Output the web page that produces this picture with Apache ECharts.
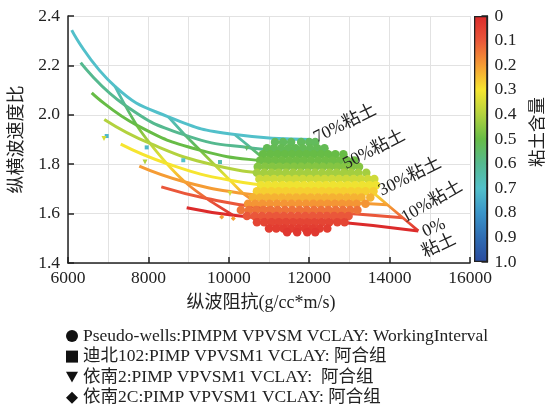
<!DOCTYPE html>
<html><head><meta charset="utf-8">
<script src="https://cdn.jsdelivr.net/npm/echarts@6/dist/echarts.min.js"></script>
<style>html,body{margin:0;padding:0;background:#fff}#c{width:548px;height:407px}</style>
</head><body><div id="c"></div>
<script>
const FONT = "'Liberation Serif','Times New Roman','Noto Sans CJK SC',serif";

// ---- template (rock-physics) curves: one per clay content ----
const clayLevels = [0.7, 0.6, 0.5, 0.4, 0.3, 0.2, 0.1, 0.0];
const curveX = [
  [6092, 7169, 8496, 10150, 12020],
  [6316, 7418, 8910, 10550, 12405],
  [6590, 7709, 9284, 10950, 12790],
  [6903, 8040, 9657, 11350, 13175],
  [7311, 8455, 10030, 11700, 13560],
  [7774, 8910, 10361, 12050, 13945],
  [8321, 9450, 10900, 12400, 14329],
  [8952, 10112, 11300, 12700, 14714]
];
const curveY = [
  [2.343, 2.115, 1.992, 1.920, 1.900],
  [2.211, 2.039, 1.918, 1.866, 1.847],
  [2.089, 1.958, 1.857, 1.812, 1.794],
  [1.981, 1.884, 1.796, 1.757, 1.741],
  [1.881, 1.803, 1.735, 1.705, 1.689],
  [1.792, 1.728, 1.681, 1.655, 1.636],
  [1.708, 1.661, 1.622, 1.607, 1.583],
  [1.624, 1.593, 1.578, 1.566, 1.530]
];
const curveLabels = ['70%粘土', '50%粘土', '30%粘土', '10%粘土', '0%', '粘土'];

// ---- pseudo-well cloud: rows of points (y, clay, x list) ----
const cloudRowY = [1.89, 1.865, 1.84, 1.815, 1.79, 1.765, 1.74, 1.715, 1.69, 1.665, 1.64, 1.615, 1.59, 1.565, 1.54, 1.525];
const cloudRowClay = [0.53, 0.52, 0.50, 0.49, 0.46, 0.42, 0.36, 0.31, 0.27, 0.23, 0.19, 0.14, 0.10, 0.06, 0.04, 0.03];
const cloudRowX = [
  [11150, 11350, 11550, 11800, 12000, 12150],
  [10950, 11120, 11300, 11480, 11660, 11840, 12020, 12200, 12380],
  [10850, 11030, 11210, 11390, 11570, 11750, 11930, 12110, 12290, 12470, 12650, 12850],
  [10780, 10960, 11140, 11320, 11500, 11680, 11860, 12040, 12220, 12400, 12580, 12760, 12940, 13120],
  [10720, 10900, 11080, 11260, 11440, 11620, 11800, 11980, 12160, 12340, 12520, 12700, 12880, 13060, 13240],
  [10700, 10880, 11060, 11240, 11420, 11600, 11780, 11960, 12140, 12320, 12500, 12680, 12860, 13040, 13220, 13420],
  [10760, 10940, 11120, 11300, 11480, 11660, 11840, 12020, 12200, 12380, 12560, 12740, 12920, 13100, 13280, 13460, 13620],
  [10800, 10980, 11160, 11340, 11520, 11700, 11880, 12060, 12240, 12420, 12600, 12780, 12960, 13140, 13320, 13500, 13660],
  [10700, 10880, 11060, 11240, 11420, 11600, 11780, 11960, 12140, 12320, 12500, 12680, 12860, 13040, 13220, 13400, 13600],
  [10600, 10780, 10960, 11140, 11320, 11500, 11680, 11860, 12040, 12220, 12400, 12580, 12760, 12940, 13120, 13300, 13520],
  [10480, 10660, 10840, 11020, 11200, 11380, 11560, 11740, 11920, 12100, 12280, 12460, 12640, 12820, 13000, 13180, 13400],
  [10300, 10500, 10680, 10860, 11040, 11220, 11400, 11580, 11760, 11940, 12120, 12300, 12480, 12660, 12840, 13020, 13200],
  [10450, 10640, 10820, 11000, 11180, 11360, 11540, 11720, 11900, 12080, 12260, 12440, 12620, 12800, 12980],
  [10700, 10880, 11060, 11240, 11420, 11600, 11780, 11960, 12140, 12320, 12500, 12700, 12880],
  [11000, 11180, 11360, 11540, 11720, 11900, 12080, 12260, 12450],
  [11450, 11700, 11950, 12150]
];

// ---- well data (sparse) ----
const wellAX = [6963, 7958, 8868, 9781];
const wellAY = [1.914, 1.868, 1.816, 1.809];
const wellAC = [0.72, 0.72, 0.70, 0.65];
const wellBX = [6896, 7915, 10030, 10445];
const wellBY = [1.904, 1.809, 1.681, 1.864];
const wellBC = [0.35, 0.40, 0.35, 0.55];
const wellCX = [9823, 10112];
const wellCY = [1.586, 1.580];
const wellCC = [0.20, 0.20];

const legendNames = [
  'Pseudo-wells:PIMPM VPVSM VCLAY: WorkingInterval',
  '迪北102:PIMP VPVSM1 VCLAY: 阿合组',
  '依南2:PIMP VPVSM1 VCLAY:  阿合组',
  '依南2C:PIMP VPVSM1 VCLAY: 阿合组'
];

const clayColors = ['#dc2b2b', '#ea573a', '#f59c34', '#f6e530', '#b3d23e', '#67bc46', '#55b98f', '#52c0ca', '#3a95c9', '#2f6db3', '#2a4b9e'];
const colorOf = c => echarts.color.lerp(c, clayColors);

const chart = echarts.init(document.getElementById('c'), null, {renderer: 'canvas'});
const series = [];

// clay curves
clayLevels.forEach((c, i) => {
  series.push({
    type: 'line', name: 'clay' + c, xAxisIndex: 0, yAxisIndex: 0,
    data: curveX[i].map((x, j) => [x, curveY[i][j]]),
    smooth: 0.5, symbol: 'none', silent: true, z: 2,
    lineStyle: {color: colorOf(c), width: 3}
  });
});
// constant-porosity diagonals
for (let j = 1; j < 5; j++) {
  const pts = clayLevels.map((c, i) => [curveX[i][j], curveY[i][j]]);
  const yTop = pts[0][1], yBot = pts[pts.length - 1][1];
  const stops = clayLevels.map((c, i) => ({offset: (yTop - pts[i][1]) / (yTop - yBot), color: colorOf(c)}));
  series.push({
    type: 'line', name: 'por' + j, xAxisIndex: 0, yAxisIndex: 0,
    data: pts, smooth: 0.2, symbol: 'none', silent: true, z: 2,
    lineStyle: {width: 2.8, color: new echarts.graphic.LinearGradient(0, 0, 0, 1, stops)}
  });
}
// cloud
const cloudData = [];
cloudRowX.forEach((xs, i) => xs.forEach(x => cloudData.push([x, cloudRowY[i], cloudRowClay[i]])));
const cloudIdx = series.length;
series.push({type: 'scatter', name: legendNames[0], data: cloudData, symbol: 'circle', symbolSize: 8.5, z: 3, silent: true,
  itemStyle: {opacity: 1}});
const wIdx = series.length;
series.push({type: 'scatter', name: legendNames[1], symbol: 'rect', symbolSize: 4, z: 4, itemStyle: {opacity: 1},
  data: wellAX.map((x, i) => [x, wellAY[i], wellAC[i]])});
series.push({type: 'scatter', name: legendNames[2], symbol: 'path://M0,0L10,0L5,9Z', symbolSize: 5, z: 4, itemStyle: {opacity: 1},
  data: wellBX.map((x, i) => [x, wellBY[i], wellBC[i]])});
series.push({type: 'scatter', name: legendNames[3], symbol: 'diamond', symbolSize: 5, z: 4, itemStyle: {opacity: 1},
  data: wellCX.map((x, i) => [x, wellCY[i], wellCC[i]])});
// colour bar
series.push({
  type: 'bar', name: 'colorbar', xAxisIndex: 1, yAxisIndex: 1, data: [1], barWidth: '100%', silent: true,
  itemStyle: {
    borderColor: '#222', borderWidth: 1.3,
    color: new echarts.graphic.LinearGradient(0, 0, 0, 1, clayColors.map((col, k) => ({offset: k / (clayColors.length - 1), color: col})))
  }
});

const txt = {fontFamily: FONT, fontSize: 17.5, color: '#222'};
const labelPos = [[345, 124, 26], [374, 150, 27], [410, 177, 26], [432, 202, 30], [434, 228, 25], [439, 246, 25]];

chart.setOption({
  animation: false,
  backgroundColor: '#fff',
  textStyle: {fontFamily: FONT},
  grid: [
    {left: 68, top: 16, width: 402, height: 247},
    {left: 474, top: 16, width: 18, height: 246}
  ],
  xAxis: [
    {type: 'value', gridIndex: 0, min: 6000, max: 16000, interval: 2000,
     name: '纵波阻抗(g/cc*m/s)', nameLocation: 'middle', nameGap: 31,
     nameTextStyle: Object.assign({}, txt, {fontSize: 18, padding: [0, 16, 0, 0]}),
     axisLine: {onZero: false, lineStyle: {color: '#222', width: 1.5}},
     axisTick: {inside: true, length: 6, lineStyle: {color: '#222', width: 1.5}},
     axisLabel: Object.assign({margin: 7, formatter: v => String(v)}, txt),
     splitLine: {show: true, lineStyle: {color: '#e2e2e2', width: 1}},
     minorTick: {show: false, splitNumber: 2},
     minorSplitLine: {show: true, lineStyle: {color: '#e2e2e2', width: 1}}},
    {type: 'category', gridIndex: 1, data: [''], show: false}
  ],
  yAxis: [
    {type: 'value', gridIndex: 0, min: 1.4, max: 2.4, interval: 0.2,
     name: '纵横波速度比', nameLocation: 'middle', nameGap: 42,
     nameTextStyle: Object.assign({}, txt, {fontSize: 18}),
     axisLine: {show: true, onZero: false, lineStyle: {color: '#222', width: 1.5}},
     axisTick: {show: true, inside: true, length: 6, lineStyle: {color: '#222', width: 1.5}},
     axisLabel: Object.assign({margin: 8, formatter: v => v.toFixed(1)}, txt),
     splitLine: {show: true, lineStyle: {color: '#e2e2e2', width: 1}}},
    {type: 'value', gridIndex: 1, min: 0, max: 1, interval: 0.1, inverse: true, position: 'right',
     name: '粘土含量', nameLocation: 'middle', nameRotate: 90, nameGap: 42,
     nameTextStyle: Object.assign({}, txt, {fontSize: 17.5, padding: [0, 0, 0, 14]}),
     axisLine: {show: true, lineStyle: {color: '#222', width: 1.3}},
     axisTick: {show: true, inside: true, length: 6, lineStyle: {color: '#222', width: 1.5}},
     axisLabel: Object.assign({margin: 7, formatter: v => (Math.abs(v) < 1e-9 ? '0' : v.toFixed(1))}, txt),
     splitLine: {show: false}}
  ],
  visualMap: {type: 'continuous', show: false, min: 0, max: 1, dimension: 2,
    seriesIndex: [cloudIdx, wIdx, wIdx + 1, wIdx + 2], inRange: {color: clayColors}},
  legend: {
    orient: 'vertical', left: 66, top: 327, padding: 0, itemWidth: 12, itemHeight: 12, itemGap: 2.6,
    textStyle: Object.assign({}, txt, {lineHeight: 18}),
    itemStyle: {color: '#111', borderWidth: 0},
    data: [
      {name: legendNames[0], icon: 'circle'},
      {name: legendNames[1], icon: 'rect'},
      {name: legendNames[2], icon: 'path://M0,0L10,0L5,9Z'},
      {name: legendNames[3], icon: 'diamond'}
    ]
  },
  graphic: curveLabels.map((t, k) => ({
    type: 'text', x: labelPos[k][0], y: labelPos[k][1], rotation: labelPos[k][2] * Math.PI / 180, z: 10,
    style: {text: t, fill: '#222', font: '17.5px ' + FONT, align: 'center', verticalAlign: 'middle'}
  })),
  series: series
});
</script>
</body></html>
